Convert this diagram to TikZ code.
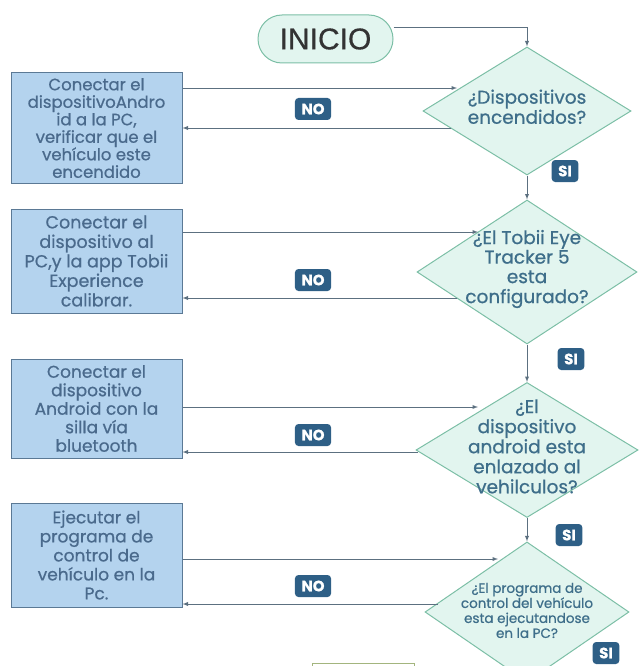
\documentclass[tikz,border=0pt]{standalone}
\usepackage{fontspec}
\setmainfont{Poppins}[FakeBold=0.7]
\newfontfamily\titlefont{Liberation Sans}[FakeBold=0.5]
\usetikzlibrary{shapes.geometric}

\definecolor{boxfill}{HTML}{B4D3EE}
\definecolor{boxline}{HTML}{5B7995}
\definecolor{boxtext}{HTML}{4A6A8C}
\definecolor{qfill}{HTML}{E2F5EF}
\definecolor{qline}{HTML}{7CBFA6}
\definecolor{qtext}{HTML}{3E6E8A}
\definecolor{flowline}{HTML}{5C7080}
\definecolor{tagfill}{HTML}{2E5F86}

\newcommand{\qlines}[2][-.35ex]{\raisebox{#1}{\smash{\begin{tabular}{@{}c@{}}#2\end{tabular}}}}

\tikzset{
  actbox/.style={rectangle, draw=boxline, fill=boxfill, line width=1pt,
    minimum width=171pt, text=boxtext, align=center, inner sep=1pt},
  question/.style={diamond, draw=qline, fill=qfill, line width=1pt,
    inner sep=0pt, text=qtext},
  tag/.style={rectangle, rounded corners=3.5pt, fill=tagfill, text=white,
    font=\bfseries\fontsize{15}{15}\selectfont, minimum height=22pt,
    inner xsep=6.5pt},
  flow/.style={-latex, line width=0.9pt, draw=flowline}
}

\begin{document}
\begin{tikzpicture}[x=1pt, y=-1pt]
  \useasboundingbox (0,0) rectangle (638,666);

  \node[rectangle, rounded corners=24pt, draw=qline, fill=qfill, line width=1pt,
    minimum width=135pt, minimum height=48pt,
    font=\titlefont\fontsize{30}{30}\selectfont, text=black!80] (ini) at (325.5,39) {INICIO};

  \node[question, minimum width=208pt, minimum height=128pt,
    font=\fontsize{18.5}{20}\selectfont] (d1) at (527,111)
    {\qlines[-6pt]{¿Dispositivos\\encendidos?}};
  \node[question, minimum width=220pt, minimum height=144pt,
    font=\fontsize{18.5}{19.5}\selectfont] (d2) at (527,272)
    {\qlines{¿El Tobii Eye\\Tracker 5\\esta\\configurado?}};
  \node[question, minimum width=222pt, minimum height=135pt,
    font=\fontsize{18.5}{20}\selectfont] (d3) at (527,450)
    {\qlines[-7pt]{¿El\\dispositivo\\android esta\\enlazado al\\vehilculos?}};
  \node[question, minimum width=204pt, minimum height=126pt,
    font=\fontsize{13.5}{15}\selectfont] (d4) at (527,612)
    {\qlines[-8pt]{¿El programa de\\control del vehículo\\esta ejecutandose\\en la PC?}};

  \node[actbox, minimum height=110pt, font=\fontsize{16.5}{17.5}\selectfont] (b1) at (96.5,128)
    {Conectar el\\dispositivoAndro\\id a la PC,\\verificar que el\\vehículo este\\encendido};
  \node[actbox, minimum height=104pt, font=\fontsize{17.5}{19.5}\selectfont] (b2) at (96.5,261)
    {Conectar el\\dispositivo al\\PC,y la app Tobii\\Experience\\calibrar.};
  \node[actbox, minimum height=99pt, font=\fontsize{17}{18.5}\selectfont] (b3) at (96.5,408.5)
    {Conectar el\\dispositivo\\Android con la\\silla vía\\bluetooth};
  \node[actbox, minimum height=104pt, font=\fontsize{17}{19}\selectfont] (b4) at (96.5,555)
    {Ejecutar el\\programa de\\control de\\vehículo en la\\Pc.};

  % entradas y salidas de cada pregunta
  \coordinate (d1in) at (457,88);
  \coordinate (d1out) at (451,128);
  \coordinate (d2in) at (478,232);
  \coordinate (d2out) at (457,298);
  \coordinate (d3in) at (478,407);
  \coordinate (d3out) at (418,452);
  \coordinate (d4in) at (498,559);
  \coordinate (d4out) at (438,604);

  \draw[flow] ([yshift=12pt]ini.east) -| (d1.north);

  \draw[flow] (b1.east |- d1in) -- (d1in);
  \draw[flow] (d1out) -- (d1out -| b1.east);
  \draw[flow] (b2.east |- d2in) -- (d2in);
  \draw[flow] (d2out) -- (d2out -| b2.east);
  \draw[flow] (b3.east |- d3in) -- (d3in);
  \draw[flow] (d3out) -- (d3out -| b3.east);
  \draw[flow] (b4.east |- d4in) -- (d4in);
  \draw[flow] (d4out) -- (d4out -| b4.east);

  \draw[flow] (d1.south) -- (d2.north);
  \draw[flow] (d2.south) -- (d3.north);
  \draw[flow] (d3.south) -- (d4.north);

  \node[tag] (no1) at (313,109) {NO};
  \node[tag] (no2) at (313,280) {NO};
  \node[tag] (no3) at (313,435) {NO};
  \node[tag] (no4) at (313,586) {NO};
  \node[tag] (si1) at (565,171) {SI};
  \node[tag] (si2) at (571,359) {SI};
  \node[tag] (si3) at (569,535) {SI};
  \node[tag] (si4) at (606,653) {SI};

  % fin, cortado por el borde
  \draw[draw={rgb,255:red,163;green,181;blue,126}, line width=1pt] (312,663.5) rectangle (414,690);
\end{tikzpicture}
\end{document}
